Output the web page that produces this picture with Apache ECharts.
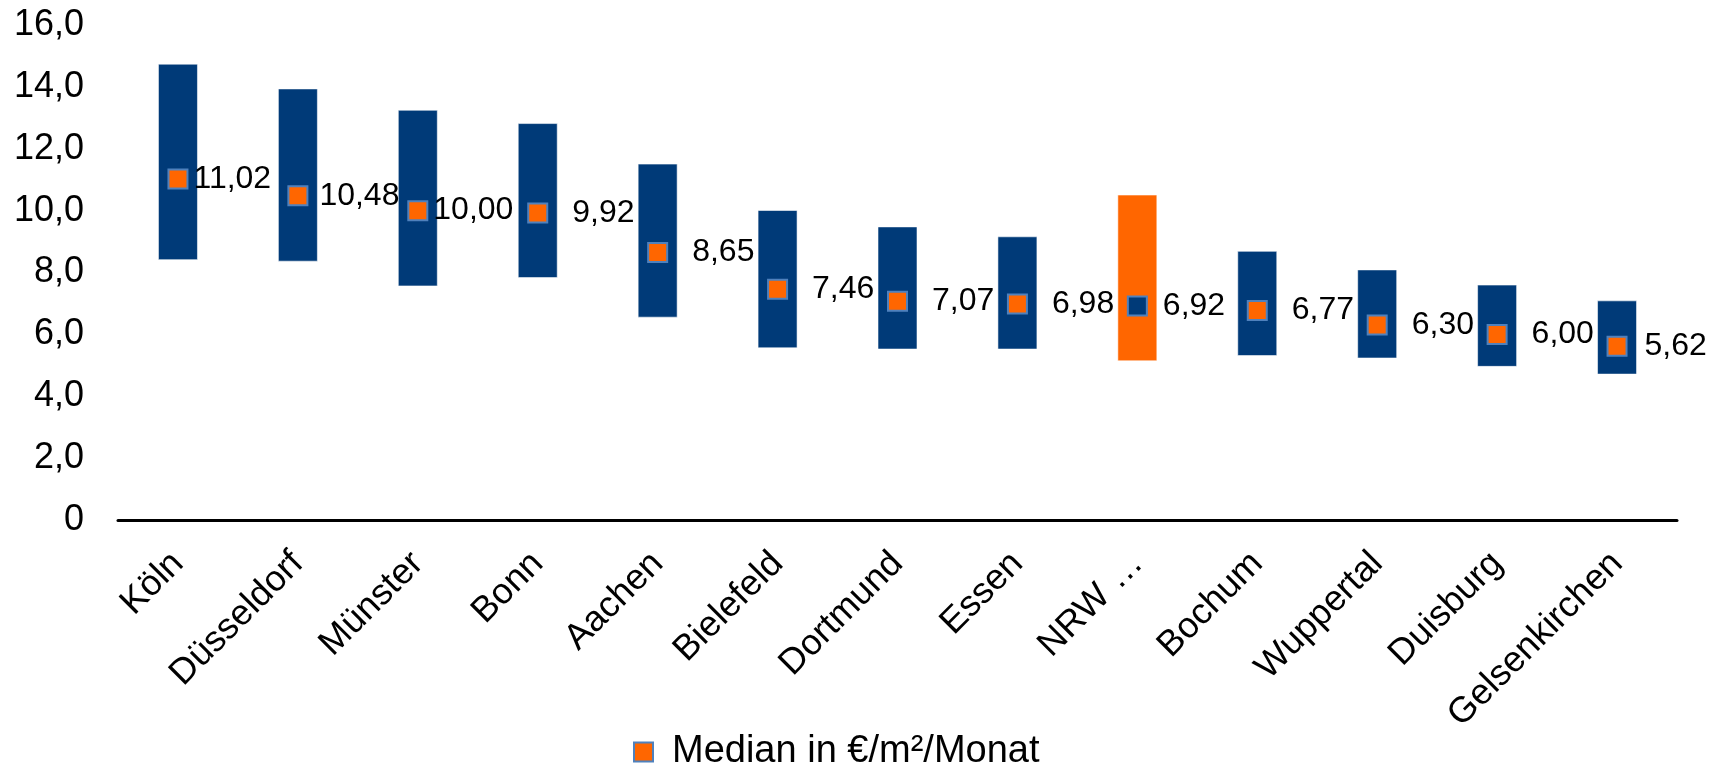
<!DOCTYPE html>
<html lang="de">
<head>
<meta charset="utf-8">
<title>Mietpreisspannen NRW</title>
<script src="https://cdn.jsdelivr.net/npm/echarts@6/dist/echarts.min.js"></script>
<style>
  html, body { margin: 0; padding: 0; background: #ffffff; }
  #chart { width: 1722px; height: 763px; }
</style>
</head>
<body>
<div id="chart"></div>
<script>
// Städte (plus NRW-Wert) in absteigender Reihenfolge des Medians
const categories = ['Köln', 'Düsseldorf', 'Münster', 'Bonn', 'Aachen', 'Bielefeld', 'Dortmund',
  'Essen', 'NRW …', 'Bochum', 'Wuppertal', 'Duisburg', 'Gelsenkirchen'];

// Untere und obere Grenze der Spanne in €/m²/Monat
const lowValues = [8.40, 8.35, 7.55, 7.82, 6.54, 5.55, 5.51, 5.51, 5.13, 5.30, 5.22, 4.95, 4.70];
const highValues = [14.75, 13.95, 13.26, 12.83, 11.52, 10.02, 9.49, 9.17, 10.52, 8.70, 8.10, 7.61, 7.10];

// Median in €/m²/Monat
const medianValues = [11.02, 10.48, 10.00, 9.92, 8.65, 7.46, 7.07, 6.98, 6.92, 6.77, 6.30, 6.00, 5.62];

const medianName = 'Median in €/m²/Monat';
const highlightCategory = 'NRW …';

// Farben
const BLUE = '#003A78';
const ORANGE = '#FF6600';
const MARKER_BORDER = '#4F81BD';

// Abstand der Wertebeschriftung rechts neben dem Marker (px)
const labelGap = [5, 11, 5, 24, 24, 24, 24, 24, 15, 24, 24, 24, 17];

const fmt = v => v.toFixed(2).replace('.', ',');
const FONT = '"Liberation Sans", Arial, sans-serif';

const chart = echarts.init(document.getElementById('chart'), null, { renderer: 'canvas' });

const option = {
  animation: false,
  backgroundColor: '#ffffff',
  textStyle: { fontFamily: FONT, color: '#000' },
  grid: { left: 118, right: 45, top: 25, bottom: 243, containLabel: false },
  legend: {
    data: [medianName],
    left: 628,
    top: 727,
    icon: 'rect',
    itemWidth: 19,
    itemHeight: 19,
    itemGap: 10,
    textStyle: {
      fontFamily: FONT,
      fontSize: 38,
      lineHeight: 40,
      color: '#000',
      padding: [0, 0, 0, 14]
    }
  },
  xAxis: {
    type: 'category',
    data: categories,
    axisLine: { show: true, lineStyle: { color: '#000', width: 3 } },
    axisTick: { show: false },
    axisLabel: {
      interval: 0,
      rotate: 45,
      margin: 38,
      fontFamily: FONT,
      fontSize: 36,
      color: '#000'
    }
  },
  yAxis: {
    type: 'value',
    min: 0,
    max: 16,
    interval: 2,
    axisLine: { show: false },
    axisTick: { show: false },
    splitLine: { show: false },
    axisLabel: {
      margin: 34,
      fontFamily: FONT,
      fontSize: 36,
      color: '#000',
      formatter: v => (v === 0 ? '0' : v.toFixed(1).replace('.', ','))
    }
  },
  series: [
    {
      name: 'Untergrenze',
      type: 'bar',
      stack: 'spanne',
      barWidth: 40,
      silent: true,
      itemStyle: { color: 'rgba(0,0,0,0)' },
      data: lowValues
    },
    {
      name: 'Spanne',
      type: 'bar',
      stack: 'spanne',
      barWidth: 40,
      silent: true,
      data: highValues.map((h, i) => ({
        value: +(h - lowValues[i]).toFixed(2),
        itemStyle: {
          color: categories[i] === highlightCategory ? ORANGE : BLUE,
          borderColor: 'rgba(255,255,255,0.55)',
          borderWidth: 1
        }
      }))
    },
    {
      name: medianName,
      type: 'scatter',
      symbol: 'rect',
      symbolSize: 19,
      z: 5,
      itemStyle: { color: ORANGE, borderColor: MARKER_BORDER, borderWidth: 2, opacity: 1 },
      label: {
        show: true,
        position: 'right',
        fontFamily: FONT,
        fontSize: 32,
        color: '#000',
        formatter: p => fmt(p.value)
      },
      data: medianValues.map((v, i) => ({
        value: v,
        itemStyle: categories[i] === highlightCategory ? { color: BLUE } : undefined,
        label: { distance: labelGap[i] }
      }))
    }
  ]
};

chart.setOption(option);
</script>
</body>
</html>
